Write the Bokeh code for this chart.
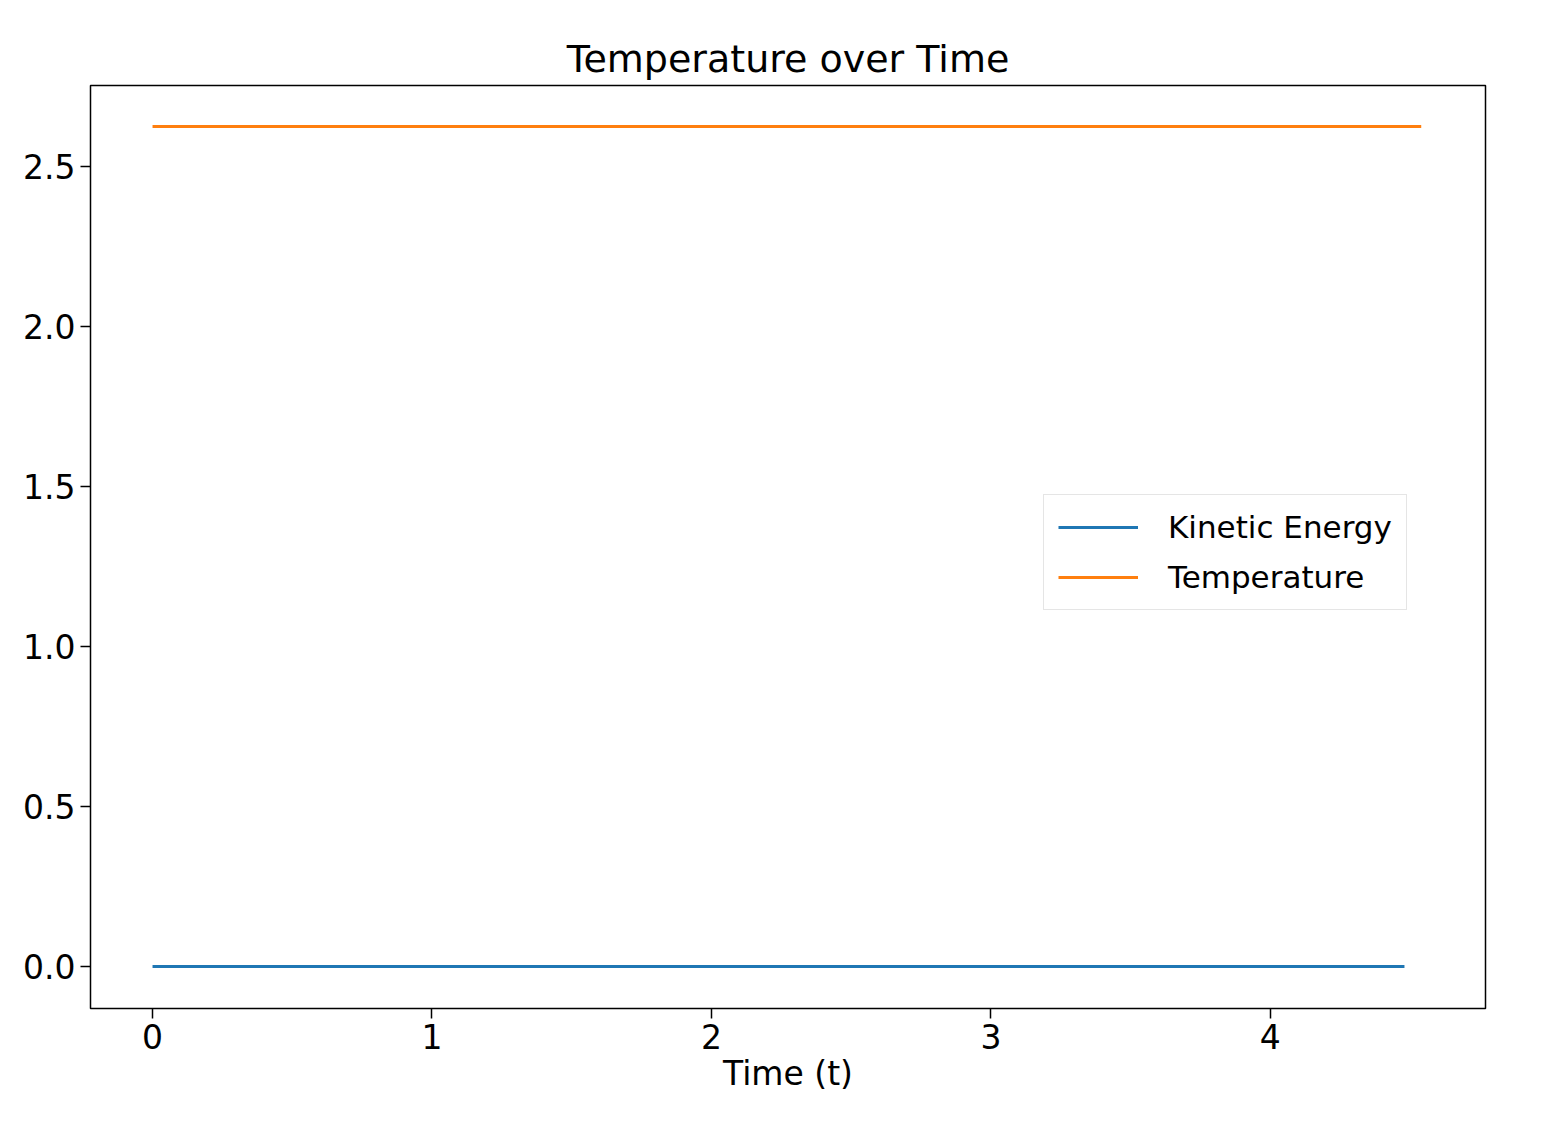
from bokeh.plotting import figure
from bokeh.models import Range1d, Label, Legend, LegendItem, FixedTicker
from bokeh.embed import file_html
from bokeh.resources import INLINE

# values in units of 1e24
ke_time = [0.0, 4.48]
ke_vals = [0.0, 0.0]
temp_time = [0.0, 4.54]
temp_vals = [2.625, 2.625]

x_ticks = [0, 1, 2, 3, 4]
y_ticks = [0.0, 0.5, 1.0, 1.5, 2.0, 2.5]

FONT = "DejaVu Sans"

p = figure(width=1540, height=1120, output_backend="svg", toolbar_location=None,
           x_range=Range1d(-0.222, 4.77), y_range=Range1d(-0.131, 2.753),
           min_border_left=90, min_border_right=55, min_border_top=85, min_border_bottom=112)
p.title.text = "Temperature over Time"
p.title.align = "center"
p.title.text_font = FONT
p.title.text_font_size = "38px"
p.title.text_font_style = "normal"
p.title.text_color = "black"

p.xgrid.visible = False
p.ygrid.visible = False
p.outline_line_color = "black"
p.outline_line_width = 1.5

for ax in (p.xaxis[0], p.yaxis[0]):
    ax.major_label_text_font = FONT
    ax.major_label_text_font_size = "33px"
    ax.major_label_text_color = "black"
    ax.major_tick_out = 10
    ax.major_tick_in = 0
    ax.minor_tick_out = 0
    ax.minor_tick_in = 0
    ax.axis_line_color = None
    ax.major_tick_line_color = "black"
    ax.major_tick_line_width = 1.5

p.xaxis.ticker = FixedTicker(ticks=x_ticks)
p.yaxis.ticker = FixedTicker(ticks=y_ticks)
p.yaxis.major_label_overrides = {v: f"{v:.1f}" for v in y_ticks}
p.xaxis.axis_label = "Time (t)"
p.xaxis.axis_label_text_font = FONT
p.xaxis.axis_label_text_font_size = "33px"
p.xaxis.axis_label_text_font_style = "normal"
p.xaxis.axis_label_text_color = "black"
p.xaxis.axis_label_standoff = 2

r1 = p.line(ke_time, ke_vals, line_color="#1f77b4", line_width=3)
r2 = p.line(temp_time, temp_vals, line_color="#ff7f0e", line_width=3)

legend = Legend(items=[LegendItem(label="Kinetic Energy", renderers=[r1]),
                       LegendItem(label="Temperature", renderers=[r2])],
                location=(953, 398), label_text_font=FONT, label_text_font_size="31px",
                label_text_color="black",
                glyph_width=80, label_standoff=30, spacing=14, padding=14,
                border_line_color="#cccccc", border_line_width=1.5,
                background_fill_alpha=0.8)
p.add_layout(legend)

p.add_layout(Label(x=-0.222, y=2.753, y_offset=4, text="1e24", text_baseline="bottom",
                   text_font=FONT, text_font_size="33px", text_color="black"))

open("out.html", "w").write(file_html(p, INLINE))
